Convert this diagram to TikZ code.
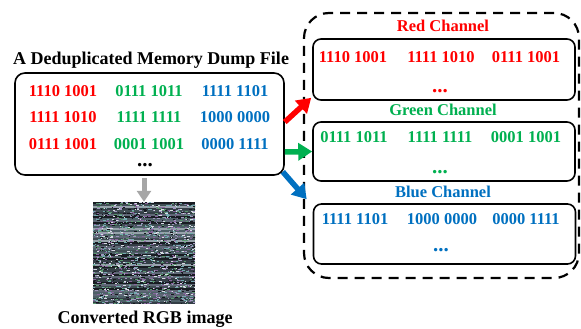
\documentclass[tikz,border=0pt]{standalone}
\usepackage{fontspec}
\setmainfont{Liberation Serif}
\usetikzlibrary{arrows.meta}
\definecolor{cred}{RGB}{255,0,0}
\definecolor{cgreen}{RGB}{0,176,80}
\definecolor{cblue}{RGB}{0,112,192}
\definecolor{cgrey}{RGB}{166,166,166}
% palette for the noisy pixel image
\definecolor{base1}{RGB}{52,62,70}
\definecolor{base2}{RGB}{78,96,104}
\definecolor{base3}{RGB}{150,162,170}
\definecolor{base4}{RGB}{24,28,34}
\definecolor{base5}{RGB}{95,104,118}
\definecolor{base6}{RGB}{64,78,84}
\definecolor{speck1}{RGB}{215,220,228}
\definecolor{speck2}{RGB}{90,150,110}
\definecolor{speck3}{RGB}{135,100,155}
\definecolor{speck4}{RGB}{115,170,175}
\definecolor{speck5}{RGB}{160,150,190}
\definecolor{speck6}{RGB}{22,24,30}
\begin{document}
\begin{tikzpicture}[x=1pt,y=-1pt,
  frame/.style={draw=black, line width=1.6pt, rounded corners=10pt, inner sep=0pt},
  chanbox/.style={draw=black, line width=1.6pt, rounded corners=8pt, inner sep=0pt, minimum width=262pt},
  bits/.style={font=\fontsize{16.5}{18}\selectfont\bfseries, inner sep=0pt},
  dots/.style={font=\fontsize{21}{22}\selectfont\bfseries, inner sep=0pt},
  heading/.style={font=\fontsize{18}{20}\selectfont\bfseries, inner sep=0pt, anchor=base},
  chan/.style={font=\fontsize{16.5}{18}\selectfont\bfseries, inner sep=0pt, anchor=base},
  flow/.style={line width=5.5pt, -{Triangle[width=17pt,length=14pt]}},
]
\useasboundingbox (0,0) rectangle (581,329);

% memory dump
\node[heading] (dumptitle) at (151,64) {A Deduplicated Memory Dump File};
\node[frame, minimum width=269pt, minimum height=102pt] (dump) at (149.5,124) {};
\node[bits, cred]   (d11) at (63,91)  {1110 1001};
\node[bits, cgreen] (d12) at (149,91) {0111 1011};
\node[bits, cblue]  (d13) at (235,91) {1111 1101};
\node[bits, cred]   (d21) at (63,117)  {1111 1010};
\node[bits, cgreen] (d22) at (149,117) {1111 1111};
\node[bits, cblue]  (d23) at (235,117) {1000 0000};
\node[bits, cred]   (d31) at (63,144)  {0111 1001};
\node[bits, cgreen] (d32) at (149,144) {0001 1001};
\node[bits, cblue]  (d33) at (235,144) {0000 1111};
\node[dots] (ddots) at (145,165) {...};

% channel group
\node[draw=black, line width=2.2pt, dash pattern=on 10pt off 7pt, rounded corners=25pt,
      minimum width=275pt, minimum height=265pt, inner sep=0pt] (group) at (441.5,145.5) {};

\node[chan, cred] (redtitle) at (443,32) {Red Channel};
\node[chanbox, minimum height=61pt] (redbox) at (444,69.5) {};
\node[bits, cred] (r1) at (353,57) {1110 1001};
\node[bits, cred] (r2) at (441,57) {1111 1010};
\node[bits, cred] (r3) at (526,57) {0111 1001};
\node[dots, cred] (rdots) at (440,91) {...};

\node[chan, cgreen] (greentitle) at (443,115) {Green Channel};
\node[chanbox, minimum height=59pt] (greenbox) at (444,151.5) {};
\node[bits, cgreen] (g1) at (354,137) {0111 1011};
\node[bits, cgreen] (g2) at (440,137) {1111 1111};
\node[bits, cgreen] (g3) at (526,137) {0001 1001};
\node[dots, cgreen] (gdots) at (440,172) {...};

\node[chan, cblue] (bluetitle) at (443,197) {Blue Channel};
\node[chanbox, minimum height=60pt] (bluebox) at (444.5,234) {};
\node[bits, cblue] (b1) at (355,219) {1111 1101};
\node[bits, cblue] (b2) at (442,219) {1000 0000};
\node[bits, cblue] (b3) at (526,219) {0000 1111};
\node[dots, cblue] (bdots) at (441,250) {...};

% split arrows
\draw[flow, cred]   ([yshift=2pt]dump.east) -- ([shift={(-1pt,3pt)}]redbox.south west);
\draw[flow, cgreen] ([yshift=-28pt]dump.east) -- (greenbox.west);
\draw[flow, cblue]  ([shift={(-2pt,4pt)}]dump.south east) -- ([shift={(-6pt,4pt)}]bluebox.north west);

% converted image
\node[minimum width=102pt, minimum height=101pt, inner sep=0pt] (img) at (144,252.5) {};
\begin{scope}
  \clip (img.south west) rectangle (img.north east);
  \pgfmathsetseed{4711}
  \foreach \r in {0,...,50} {
    \pgfmathrandominteger{\b}{1}{6}
    \fill[base\b] (93,202+2*\r) rectangle (195,204+2*\r);
    \foreach \k in {1,...,34} {
      \pgfmathrandominteger{\xs}{91}{195}
      \pgfmathrandominteger{\w}{1}{3}
      \pgfmathrandominteger{\c}{1}{6}
      \pgfmathrandominteger{\dy}{0}{1}
      \fill[speck\c] (\xs,202+2*\r+\dy) rectangle ++(\w,1);
    }
  }
\end{scope}
\draw[cgrey, line width=5pt, -{Triangle[width=14pt,length=11pt]}]
  ([yshift=-2pt]dump.south -| img.north) -- (img.north);
\node[heading] (imgtitle) at (145,323) {Converted RGB image};
\end{tikzpicture}
\end{document}
